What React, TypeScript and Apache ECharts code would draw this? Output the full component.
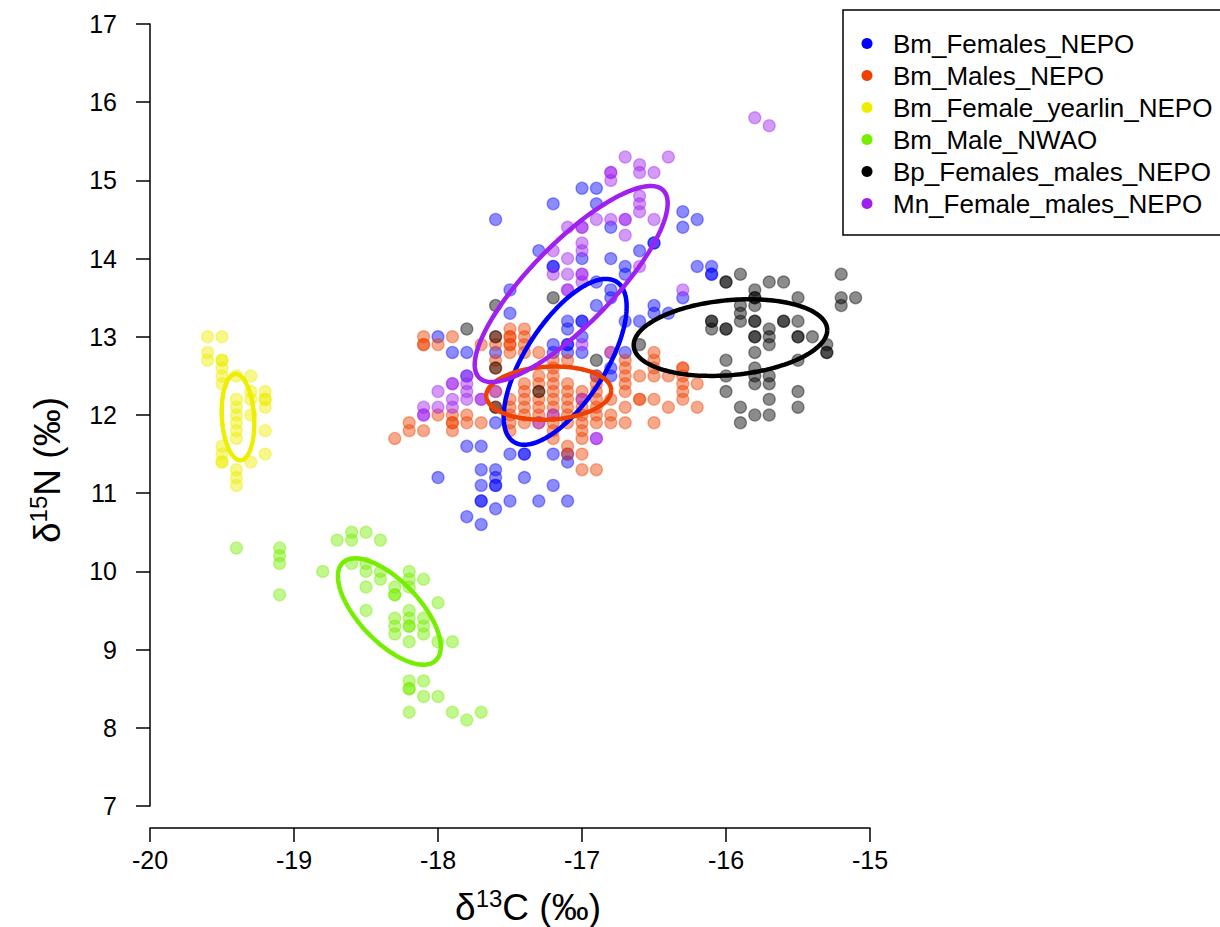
import React, { useEffect, useRef } from "react";
import * as echarts from "echarts";

const seriesNames = [
  "Bm_Females_NEPO",
  "Bm_Males_NEPO",
  "Bm_Female_yearlin_NEPO",
  "Bm_Male_NWAO",
  "Bp_Females_males_NEPO",
  "Mn_Female_males_NEPO",
];
const seriesColors = ["#0000FF", "#EE4000", "#EEEE00", "#76EE00", "#000000", "#A020F0"];

const xTicks = [-20, -19, -18, -17, -16, -15];
const yTicks = [7, 8, 9, 10, 11, 12, 13, 14, 15, 16, 17];

const bmFemalesNEPO: number[][] = [
  [-17.6, 14.5], [-17.2, 14.7], [-17.0, 14.9], [-16.9, 14.9], [-16.9, 14.7], [-16.3, 14.6], [-16.2, 14.5],
  [-16.3, 14.4], [-16.8, 14.4], [-17.3, 14.1], [-16.6, 14.1], [-16.5, 14.2], [-16.5, 14.2], [-17.0, 14.0],
  [-16.8, 14.0], [-16.7, 13.9], [-16.7, 13.8], [-17.2, 13.9], [-17.2, 13.9], [-16.2, 13.9], [-16.1, 13.9],
  [-16.1, 13.8], [-16.1, 13.8], [-17.5, 13.6], [-16.9, 13.7], [-16.8, 13.6], [-16.8, 13.5], [-16.5, 13.4],
  [-16.5, 13.3], [-16.4, 13.3], [-16.3, 13.5], [-16.9, 13.4], [-17.5, 13.3], [-17.1, 13.2], [-17.1, 13.1],
  [-17.0, 13.2], [-17.0, 13.2], [-16.7, 13.2], [-16.6, 13.2], [-17.2, 12.9], [-17.2, 12.8], [-17.1, 12.9],
  [-17.1, 12.9], [-17.1, 12.8], [-17.0, 13.0], [-17.0, 12.8], [-16.8, 12.6], [-16.8, 12.5], [-16.9, 12.5],
  [-16.7, 12.8], [-18.0, 13.0], [-17.9, 12.8], [-17.8, 12.8], [-17.6, 12.8], [-17.8, 12.5], [-17.6, 11.9],
  [-17.8, 11.6], [-17.7, 11.6], [-17.5, 11.5], [-17.4, 11.5], [-17.4, 11.5], [-17.2, 11.5], [-17.1, 11.5],
  [-17.1, 11.4], [-18.0, 11.2], [-17.7, 11.3], [-17.7, 11.1], [-17.6, 11.3], [-17.6, 11.2], [-17.6, 11.1],
  [-17.6, 11.1], [-17.4, 11.2], [-17.2, 11.1], [-17.7, 10.9], [-17.7, 10.9], [-17.6, 10.8], [-17.8, 10.7],
  [-17.5, 10.9], [-17.3, 10.9], [-17.1, 10.9], [-17.7, 10.6],
];

const bmMalesNEPO: number[][] = [
  [-18.3, 11.7], [-18.2, 11.9], [-18.2, 11.8], [-18.1, 13.0], [-18.1, 12.9], [-18.1, 12.9], [-18.1, 11.8],
  [-18.0, 12.9], [-18.0, 12.0], [-17.9, 13.0], [-17.9, 12.0], [-17.9, 11.9], [-17.9, 11.9], [-17.9, 11.8],
  [-17.8, 12.0], [-17.8, 11.9], [-17.7, 12.9], [-17.7, 11.9], [-17.6, 12.9], [-17.6, 13.0], [-17.6, 12.7],
  [-17.6, 12.6], [-17.6, 12.1], [-17.6, 12.3], [-17.5, 13.1], [-17.5, 13.0], [-17.5, 13.0], [-17.5, 12.9],
  [-17.5, 12.9], [-17.5, 12.8], [-17.5, 12.2], [-17.5, 12.1], [-17.5, 12.0], [-17.5, 11.9], [-17.5, 11.8],
  [-17.4, 13.1], [-17.4, 13.0], [-17.4, 12.9], [-17.4, 12.8], [-17.4, 12.4], [-17.4, 12.3], [-17.4, 12.2],
  [-17.4, 12.1], [-17.4, 12.0], [-17.4, 11.9], [-17.3, 12.8], [-17.3, 12.5], [-17.3, 12.4], [-17.3, 12.3],
  [-17.3, 12.2], [-17.3, 12.1], [-17.3, 12.0], [-17.3, 11.9], [-17.2, 12.7], [-17.2, 12.6], [-17.2, 12.5],
  [-17.2, 12.4], [-17.2, 12.3], [-17.2, 12.2], [-17.2, 12.1], [-17.2, 12.0], [-17.2, 11.9], [-17.2, 11.8],
  [-17.2, 11.7], [-17.1, 12.7], [-17.1, 12.4], [-17.1, 12.3], [-17.1, 12.2], [-17.1, 12.1], [-17.1, 12.0],
  [-17.1, 11.9], [-17.1, 11.6], [-17.1, 11.5], [-17.0, 12.3], [-17.0, 12.2], [-17.0, 12.1], [-17.0, 12.0],
  [-17.0, 11.9], [-17.0, 11.8], [-17.0, 11.7], [-17.0, 11.5], [-17.0, 11.3], [-16.9, 12.5], [-16.9, 12.4],
  [-16.9, 12.3], [-16.9, 12.2], [-16.9, 12.1], [-16.9, 12.0], [-16.9, 11.9], [-16.9, 11.3], [-16.8, 12.8],
  [-16.8, 12.2], [-16.8, 12.0], [-16.8, 11.9], [-16.7, 12.7], [-16.7, 12.6], [-16.7, 12.5], [-16.7, 12.4],
  [-16.7, 12.3], [-16.7, 12.1], [-16.7, 11.9], [-16.6, 12.5], [-16.6, 12.2], [-16.6, 12.2], [-16.5, 12.8],
  [-16.5, 12.7], [-16.5, 12.6], [-16.5, 12.5], [-16.5, 12.2], [-16.5, 11.9], [-16.4, 12.5], [-16.4, 12.1],
  [-16.3, 12.6], [-16.3, 12.6], [-16.3, 12.5], [-16.3, 12.4], [-16.3, 12.3], [-16.3, 12.2], [-16.2, 12.4],
  [-16.2, 12.1],
];

const bmFemaleYearlinNEPO: number[][] = [
  [-19.6, 13.0], [-19.5, 13.0], [-19.6, 12.8], [-19.6, 12.7], [-19.5, 12.7], [-19.5, 12.7], [-19.5, 12.6],
  [-19.5, 12.5], [-19.5, 12.4], [-19.4, 12.5], [-19.3, 12.5], [-19.3, 12.3], [-19.3, 12.2], [-19.2, 12.3],
  [-19.2, 12.2], [-19.2, 12.2], [-19.2, 12.1], [-19.4, 12.2], [-19.4, 12.1], [-19.4, 12.0], [-19.4, 11.9],
  [-19.4, 11.8], [-19.4, 11.7], [-19.3, 12.0], [-19.2, 11.8], [-19.2, 11.5], [-19.5, 11.6], [-19.5, 11.5],
  [-19.5, 11.4], [-19.5, 11.4], [-19.3, 11.4], [-19.4, 11.3], [-19.4, 11.2], [-19.4, 11.1],
];

const bmMaleNWAO: number[][] = [
  [-19.4, 10.3], [-19.1, 10.3], [-19.1, 10.2], [-19.1, 10.1], [-19.1, 9.7], [-18.8, 10.0], [-18.7, 10.4],
  [-18.6, 10.5], [-18.6, 10.4], [-18.5, 10.5], [-18.4, 10.4], [-18.6, 10.1], [-18.5, 10.1], [-18.5, 10.0],
  [-18.4, 10.0], [-18.4, 9.9], [-18.5, 9.8], [-18.3, 9.8], [-18.3, 9.7], [-18.3, 9.7], [-18.2, 10.0],
  [-18.2, 9.9], [-18.2, 9.8], [-18.1, 9.9], [-18.0, 9.6], [-18.5, 9.5], [-18.2, 9.5], [-18.2, 9.4],
  [-18.2, 9.3], [-18.2, 9.3], [-18.2, 9.1], [-18.3, 9.4], [-18.3, 9.3], [-18.3, 9.2], [-18.1, 9.4],
  [-18.1, 9.3], [-18.1, 9.2], [-18.0, 9.1], [-17.9, 9.1], [-18.2, 8.6], [-18.2, 8.5], [-18.2, 8.5],
  [-18.1, 8.6], [-18.1, 8.4], [-18.0, 8.4], [-18.2, 8.2], [-17.9, 8.2], [-17.8, 8.1], [-17.7, 8.2],
];

const bpFemalesMalesNEPO: number[][] = [
  [-17.8, 13.1], [-17.6, 13.4], [-17.2, 13.5], [-17.6, 13.0], [-17.6, 12.6], [-17.6, 12.1], [-17.3, 12.3],
  [-16.9, 12.7], [-16.6, 12.9], [-16.0, 13.7], [-16.0, 13.7], [-15.9, 13.8], [-15.7, 13.7], [-15.6, 13.7],
  [-15.8, 13.6], [-15.8, 13.5], [-15.8, 13.5], [-15.8, 13.4], [-15.5, 13.5], [-15.9, 13.4], [-15.9, 13.3],
  [-15.9, 13.2], [-16.1, 13.2], [-16.1, 13.2], [-16.1, 13.1], [-16.0, 13.1], [-16.0, 13.1], [-15.8, 13.2],
  [-15.8, 13.2], [-15.6, 13.2], [-15.6, 13.2], [-15.5, 13.2], [-15.7, 13.1], [-15.7, 13.0], [-15.7, 12.9],
  [-15.8, 13.0], [-15.8, 13.0], [-15.5, 13.0], [-15.5, 13.0], [-15.4, 13.0], [-15.3, 12.9], [-15.3, 12.8],
  [-15.3, 12.8], [-15.8, 12.8], [-16.0, 12.7], [-15.8, 12.6], [-16.0, 12.5], [-15.8, 12.5], [-15.8, 12.4],
  [-15.7, 12.5], [-15.7, 12.4], [-15.5, 12.7], [-16.0, 12.3], [-15.5, 12.3], [-15.7, 12.2], [-15.5, 12.1],
  [-15.9, 12.1], [-15.9, 11.9], [-15.8, 12.0], [-15.7, 12.0], [-15.2, 13.8], [-15.2, 13.5], [-15.2, 13.4],
  [-15.1, 13.5],
];

const mnFemaleMalesNEPO: number[][] = [
  [-15.8, 15.8], [-15.7, 15.7], [-16.7, 15.3], [-16.4, 15.3], [-16.6, 15.2], [-16.6, 15.1], [-16.5, 15.1],
  [-16.8, 15.1], [-16.8, 15.1], [-16.8, 15.0], [-16.6, 14.8], [-16.6, 14.7], [-16.6, 14.6], [-16.5, 14.5],
  [-16.8, 14.5], [-16.7, 14.5], [-16.7, 14.5], [-16.9, 14.5], [-16.7, 14.3], [-17.1, 14.4], [-17.0, 14.4],
  [-17.0, 14.4], [-17.0, 14.2], [-17.0, 14.1], [-17.2, 14.1], [-17.1, 14.0], [-17.2, 13.8], [-17.1, 13.8],
  [-17.0, 13.8], [-17.0, 13.8], [-17.0, 13.7], [-17.1, 13.6], [-17.1, 13.6], [-16.6, 13.9], [-16.3, 13.6],
  [-17.0, 12.9], [-17.0, 12.2], [-16.9, 11.7], [-16.9, 11.7], [-17.3, 11.9], [-16.8, 12.8], [-17.9, 12.4],
  [-17.9, 12.4], [-18.0, 12.3], [-18.1, 12.1], [-18.1, 12.0], [-18.1, 12.0], [-18.0, 12.1], [-17.9, 12.2],
  [-17.9, 12.1], [-17.8, 12.5], [-17.8, 12.4], [-17.8, 12.3], [-17.8, 12.2], [-17.7, 12.2], [-17.7, 12.2],
  [-17.6, 12.3], [-17.2, 12.0],
];

// standard ellipse parameters: [meanX, meanY, sdX, sdY, correlation]
const ellipseBmFemales = [-17.117, 12.68, 0.427, 1.06, 0.665];
const ellipseBmMales = [-17.231, 12.28, 0.434, 0.34, 0.1];
const ellipseBmYearlin = [-19.389, 11.972, 0.113, 0.552, -0.14];
const ellipseBmNWAO = [-18.338, 9.487, 0.357, 0.68, -0.662];
const ellipseBp = [-15.969, 12.99, 0.672, 0.49, 0.196];
const ellipseMn = [-17.075, 13.675, 0.67, 1.253, 0.824];

const groups = [bmFemalesNEPO, bmMalesNEPO, bmFemaleYearlinNEPO, bmMaleNWAO, bpFemalesMalesNEPO, mnFemaleMalesNEPO];
const ellipses = [ellipseBmFemales, ellipseBmMales, ellipseBmYearlin, ellipseBmNWAO, ellipseBp, ellipseMn];

function ellipsePoints(p: number[]): number[][] {
  const [mx, my, sx, sy, r] = p;
  const out: number[][] = [];
  const n = 180;
  const q = Math.sqrt(1 - r * r);
  for (let i = 0; i <= n; i++) {
    const t = (i / n) * Math.PI * 2;
    out.push([mx + sx * Math.cos(t), my + sy * (r * Math.cos(t) + q * Math.sin(t))]);
  }
  return out;
}

function hexToRgba(hex: string, a: number) {
  const v = parseInt(hex.slice(1), 16);
  return `rgba(${(v >> 16) & 255},${(v >> 8) & 255},${v & 255},${a})`;
}

const FONT = "'Liberation Sans', Arial, sans-serif";

export default function App() {
  const ref = useRef<HTMLDivElement>(null);
  useEffect(() => {
    if (!ref.current) return;
    const chart = echarts.init(ref.current, undefined, { renderer: "svg" });

    const scatterSeries = groups.map((g, i) => ({
      name: seriesNames[i],
      type: "scatter",
      data: g,
      symbol: "circle",
      symbolSize: 12,
      itemStyle: {
        color: hexToRgba(seriesColors[i], 0.45),
        borderColor: hexToRgba(seriesColors[i], 0.4),
        borderWidth: 1.3,
        opacity: 1,
      },
      z: 2,
      silent: true,
    }));
    const ellipseSeries = ellipses.map((e, i) => ({
      name: seriesNames[i] + "_ellipse",
      type: "line",
      data: ellipsePoints(e),
      showSymbol: false,
      symbol: "none",
      smooth: false,
      lineStyle: { color: seriesColors[i], width: 4.5 },
      z: 3,
      silent: true,
    }));

    const legendItems: any[] = [
      {
        type: "rect",
        shape: { x: 843, y: 10, width: 400, height: 225 },
        style: { fill: "#fff", stroke: "#000", lineWidth: 1.5 },
        z: 10,
      },
    ];
    seriesNames.forEach((n, i) => {
      const cy = 43.5 + i * 32;
      legendItems.push({
        type: "circle",
        shape: { cx: 867, cy, r: 5.5 },
        style: { fill: seriesColors[i] },
        z: 11,
      });
      legendItems.push({
        type: "text",
        x: 893,
        y: cy,
        style: {
          text: n,
          fill: "#000",
          font: `26px ${FONT}`,
          textAlign: "left",
          textVerticalAlign: "middle",
          verticalAlign: "middle",
        },
        z: 11,
      });
    });

    const titleRich = {
      n: { fontSize: 37, fontFamily: FONT, color: "#000", verticalAlign: "bottom" },
      s: { fontSize: 24, fontFamily: FONT, color: "#000", verticalAlign: "bottom", padding: [0, 0, 15, 0] },
    };

    chart.setOption({
      animation: false,
      backgroundColor: "#fff",
      grid: { left: 150, top: 24, width: 720, height: 782, containLabel: false },
      xAxis: {
        type: "value",
        min: xTicks[0],
        max: xTicks[xTicks.length - 1],
        interval: 1,
        offset: 22,
        axisLine: { show: true, onZero: false, lineStyle: { color: "#000", width: 1.5 } },
        axisTick: { show: true, length: 14, lineStyle: { color: "#000", width: 1.5 } },
        axisLabel: { fontSize: 25, color: "#000", fontFamily: FONT, margin: 19 },
        splitLine: { show: false },
      },
      yAxis: {
        type: "value",
        min: yTicks[0],
        max: yTicks[yTicks.length - 1],
        interval: 1,
        axisLine: { show: true, onZero: false, lineStyle: { color: "#000", width: 1.5 } },
        axisTick: { show: true, length: 14, lineStyle: { color: "#000", width: 1.5 } },
        axisLabel: { fontSize: 25, color: "#000", fontFamily: FONT, margin: 33 },
        splitLine: { show: false },
      },
      graphic: [
        {
          type: "text",
          x: 528,
          y: 906,
          style: {
            text: "{n|δ}{s|13}{n|C (‰)}",
            rich: titleRich,
            textAlign: "center",
            textVerticalAlign: "middle",
            align: "center",
            verticalAlign: "middle",
          },
        },
        {
          type: "text",
          x: 46,
          y: 470,
          rotation: Math.PI / 2,
          style: {
            text: "{n|δ}{s|15}{n|N (‰)}",
            rich: titleRich,
            textAlign: "center",
            textVerticalAlign: "middle",
            align: "center",
            verticalAlign: "middle",
          },
        },
        ...legendItems,
      ],
      series: [...scatterSeries, ...ellipseSeries],
    });
    return () => chart.dispose();
  }, []);
  return <div ref={ref} style={{ position: "absolute", left: 0, top: 0, width: 1220, height: 927 }} />;
}
